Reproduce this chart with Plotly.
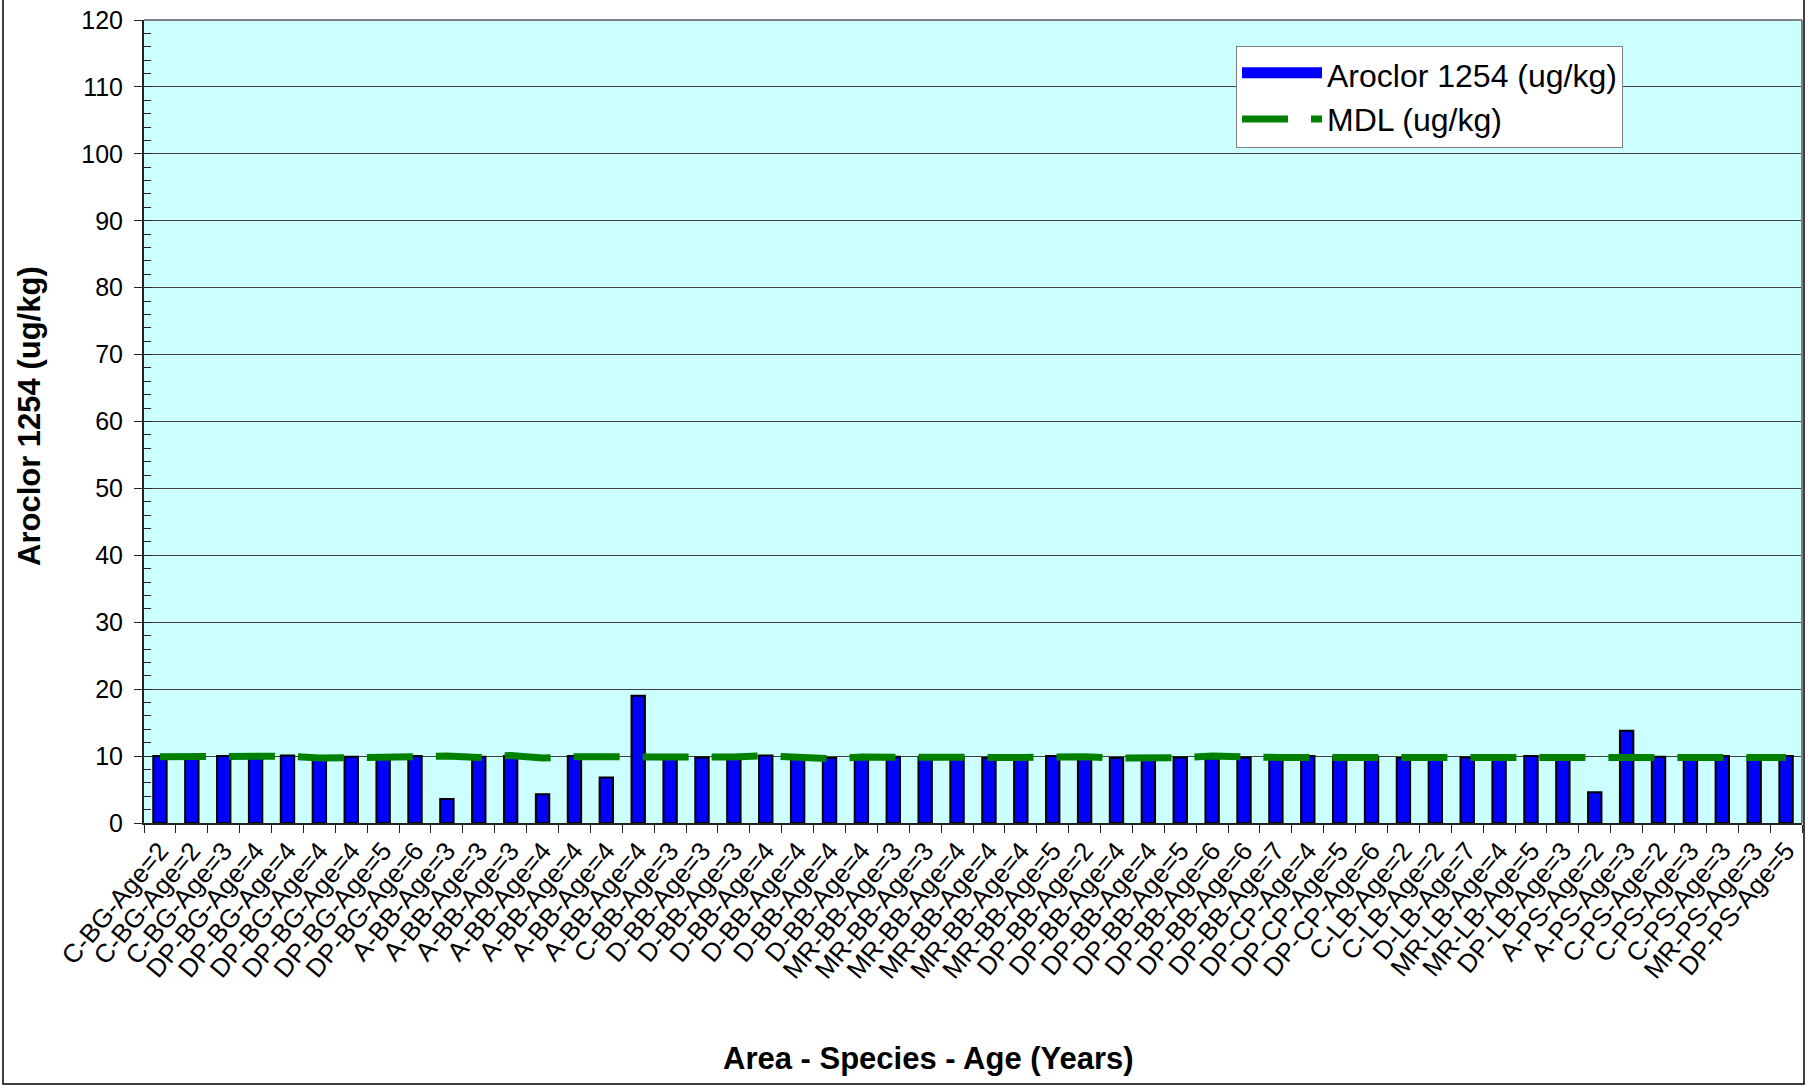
import plotly.graph_objects as go

# Sample labels: Area - Species - Age
labels = [
    "C-BG-Age=2", "C-BG-Age=2", "C-BG-Age=3",
    "DP-BG-Age=4", "DP-BG-Age=4", "DP-BG-Age=4", "DP-BG-Age=4", "DP-BG-Age=5", "DP-BG-Age=6",
    "A-BB-Age=3", "A-BB-Age=3", "A-BB-Age=3", "A-BB-Age=4", "A-BB-Age=4", "A-BB-Age=4", "A-BB-Age=4",
    "C-BB-Age=3",
    "D-BB-Age=3", "D-BB-Age=3", "D-BB-Age=4", "D-BB-Age=4", "D-BB-Age=4", "D-BB-Age=4",
    "MR-BB-Age=3", "MR-BB-Age=3", "MR-BB-Age=4", "MR-BB-Age=4", "MR-BB-Age=4", "MR-BB-Age=5",
    "DP-BB-Age=2", "DP-BB-Age=4", "DP-BB-Age=4", "DP-BB-Age=5", "DP-BB-Age=6", "DP-BB-Age=6", "DP-BB-Age=7",
    "DP-CP-Age=4", "DP-CP-Age=5", "DP-CP-Age=6",
    "C-LB-Age=2", "C-LB-Age=2", "D-LB-Age=7", "MR-LB-Age=4", "MR-LB-Age=5", "DP-LB-Age=3",
    "A-PS-Age=2", "A-PS-Age=3", "C-PS-Age=2", "C-PS-Age=3", "C-PS-Age=3", "MR-PS-Age=3", "DP-PS-Age=5",
]

# Aroclor 1254 concentration (ug/kg)
aroclor = [
    10.0, 9.9, 10.0, 9.8, 10.1, 9.6, 9.9, 9.6, 10.0,
    3.6, 9.9, 10.0, 4.3, 10.0, 6.8, 19.0,
    9.8,
    9.8, 9.7, 10.1, 9.7, 9.7, 9.7,
    9.9, 9.8, 9.9, 9.7, 9.9, 10.0,
    10.0, 9.7, 9.7, 9.8, 10.0, 9.8, 9.7,
    10.0, 9.8, 9.9,
    9.7, 9.9, 9.8, 9.9, 10.0, 10.0,
    4.6, 13.8, 9.9, 9.8, 10.0, 9.7, 10.0,
]

# Method detection limit (ug/kg)
mdl = [
    9.9, 9.9, 9.9, 9.9, 10.0, 9.7, 9.7, 9.7, 9.9,
    10.0, 9.8, 10.1, 9.7, 9.9, 9.9, 10.0,
    9.85,
    9.75, 9.85, 10.05, 9.9, 9.6, 9.85,
    9.9, 9.9, 9.9, 9.8, 9.8, 9.9,
    9.9, 9.7, 9.6, 9.75, 10.0, 9.8, 9.8,
    9.8, 9.8, 9.8,
    9.75, 9.75, 9.9, 9.75, 10.0, 9.9,
    9.8, 9.8, 9.75, 9.75, 9.9, 9.8, 9.8,
]

y_ticks = list(range(0, 121, 10))

# unique category keys so repeated sample labels stay separate
keys = [f"s{i:02d}" for i in range(len(labels))]

FONT = "Arial, Liberation Sans, sans-serif"
BAR_NAME = "Aroclor 1254 (ug/kg)"

fig = go.Figure()
fig.add_trace(go.Bar(
    x=keys, y=aroclor, name=BAR_NAME,
    marker=dict(color="#0000FF", line=dict(color="#000000", width=2)),
    width=0.42, showlegend=False,
))
# legend entry for the bars: a wide filled swatch
fig.add_trace(go.Scatter(
    x=[None], y=[None], name=BAR_NAME, mode="lines",
    fill="toself", fillcolor="#0000FF",
    line=dict(color="#0000FF", width=16),
))
fig.add_trace(go.Scatter(
    x=keys, y=mdl, name="MDL (ug/kg)", mode="lines",
    line=dict(color="#008000", width=7, dash="46px,23px"),
))

L, R, T, B = 144, 9, 20, 264
W, H = 1811, 1087
pw, ph = W - L - R, H - T - B

def px(xp):
    return (xp - L) / pw

def py(yp):
    return (H - B - yp) / ph

fig.update_layout(
    width=W, height=H,
    margin=dict(l=L, r=R, t=T, b=B, pad=0),
    paper_bgcolor="white",
    plot_bgcolor="#CCFFFF",
    font=dict(family=FONT, color="black"),
    showlegend=True,
    legend=dict(
        x=px(1236), y=py(46), xanchor="left", yanchor="top",
        bgcolor="white", bordercolor="#808080", borderwidth=1,
        font=dict(size=32, family=FONT),
        itemwidth=80, tracegroupgap=0,
    ),
)

fig.update_xaxes(
    type="category",
    tickmode="array", tickvals=keys, ticktext=labels,
    tickson="boundaries",
    ticks="outside", ticklen=8, tickwidth=1, tickcolor="#222222",
    tickangle=-50,
    tickfont=dict(size=26, family=FONT),
    showline=True, linecolor="#222222", linewidth=2,
    showgrid=False, automargin=False,
    range=[-0.5, len(keys) - 0.5],
)

fig.update_yaxes(
    range=[0, 120],
    tickmode="array", tickvals=y_ticks,
    ticks="outside", ticklen=8, tickwidth=1, tickcolor="#222222",
    ticklabelstandoff=6,
    tickfont=dict(size=25, family=FONT),
    showline=True, linecolor="#222222", linewidth=2,
    showgrid=True, gridcolor="#404040", gridwidth=1,
    zeroline=False, automargin=False,
    minor=dict(ticks="inside", dtick=2, ticklen=7, tickcolor="#222222", tickwidth=1, showgrid=False),
)

# gray frame on the top and right sides of the plot area
fig.add_shape(type="line", xref="paper", yref="paper", x0=0, x1=1, y0=1, y1=1,
              line=dict(color="#808080", width=2))
fig.add_shape(type="line", xref="paper", yref="paper", x0=1, x1=1, y0=0, y1=1,
              line=dict(color="#808080", width=2))

# outer chart border
fig.add_shape(type="rect", xref="paper", yref="paper",
              x0=px(3), x1=px(1804), y0=py(1084), y1=py(-5),
              line=dict(color="#000000", width=1.5), fillcolor="rgba(0,0,0,0)")

# axis titles
fig.add_annotation(
    text="<b>Area - Species - Age (Years)</b>", xref="paper", yref="paper",
    x=px(928), y=py(1058), xanchor="center", yanchor="middle", showarrow=False,
    font=dict(size=31, family=FONT),
)
fig.add_annotation(
    text="<b>Aroclor 1254 (ug/kg)</b>", xref="paper", yref="paper",
    x=px(29), y=py(416), xanchor="center", yanchor="middle", showarrow=False,
    textangle=-90, font=dict(size=31, family=FONT),
)

fig.write_html("out.html")
